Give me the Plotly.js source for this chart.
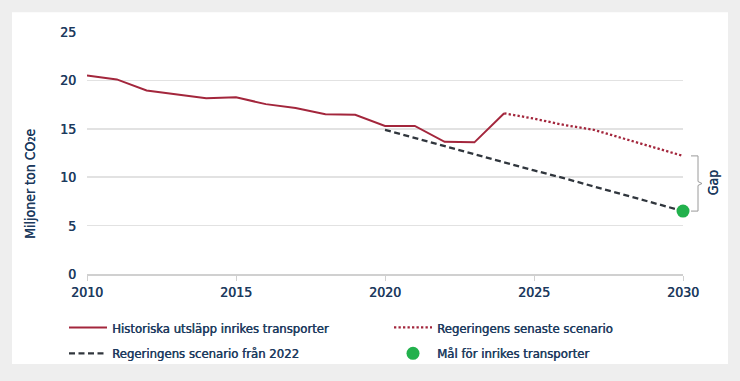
<!DOCTYPE html>
<html>
<head>
<meta charset="utf-8">
<script src="https://cdn.plot.ly/plotly-3.0.1.min.js"></script>
<style>
  html, body { margin: 0; padding: 0; background: #eeeeee; }
  #chart { width: 740px; height: 381px; }
</style>
</head>
<body>
<div id="chart"></div>
<script>
// ---- Data ----
const histYears = [2010, 2011, 2012, 2013, 2014, 2015, 2016, 2017, 2018, 2019, 2020, 2021, 2022, 2023, 2024];
const histValues = [20.5, 20.1, 18.95, 18.55, 18.15, 18.25, 17.55, 17.15, 16.5, 16.45, 15.3, 15.3, 13.65, 13.6, 16.6];

const latestYears = [2024, 2025, 2026, 2027, 2028, 2029, 2030];
const latestValues = [16.6, 16.05, 15.4, 14.9, 14.0, 13.1, 12.2];

const scen2022Years = [2020, 2021, 2022, 2023, 2024, 2025, 2026, 2027, 2028, 2029, 2030];
const scen2022Values = [14.9, 14.05, 13.2, 12.4, 11.55, 10.7, 9.9, 9.05, 8.2, 7.35, 6.5];

const targetYears = [2030];
const targetValues = [6.5];

const xTickVals = [2010, 2015, 2020, 2025, 2030];
const yTickVals = [0, 5, 10, 15, 20, 25];

const names = {
  hist: 'Historiska utsläpp inrikes transporter',
  latest: 'Regeringens senaste scenario',
  s2022: 'Regeringens scenario från 2022',
  target: 'Mål för inrikes transporter'
};
const yTitle = 'Miljoner ton CO₂e';
const gapLabel = 'Gap';

// ---- Layout geometry ----
const W = 740, H = 381;
const M = { l: 87, r: 57, t: 32, b: 104 };
const pw = W - M.l - M.r, ph = H - M.t - M.b;
const yMax = 25;
const px2x = p => (p - M.l) / pw;
const py2y = p => (H - M.b - p) / ph;

const navy = '#1c3a5e';
const maroon = '#a3263c';
const FONT = "'DejaVu Sans Condensed', 'DejaVu Sans', sans-serif";
const f = (size, weight) => ({ family: FONT, color: navy, size: size, weight: weight || 'normal',
  shadow: '0.45px 0 0 ' + navy });

const traces = [
  { x: histYears, y: histValues, name: names.hist, mode: 'lines',
    line: { color: maroon, width: 2 }, legend: 'legend', legendgroup: 'a' },
  { x: scen2022Years, y: scen2022Values, name: names.s2022, mode: 'lines',
    line: { color: '#30363d', width: 2.3, dash: '6px,3.5px' }, legend: 'legend', legendgroup: 'b' },
  { x: latestYears, y: latestValues, name: names.latest, mode: 'lines',
    line: { color: maroon, width: 2.3, dash: '2.3px,2.2px' }, legend: 'legend2', legendgroup: 'c' },
  { x: targetYears, y: targetValues, name: names.target, mode: 'markers',
    marker: { color: '#22b14c', size: 13 }, legend: 'legend2', legendgroup: 'd', cliponaxis: false }
];

// brace between last scenario values
const topV = latestValues[latestValues.length - 1];
const botV = targetValues[targetValues.length - 1];
const midV = (topV + botV) / 2;
const bx0 = 1 + 8 / pw, bx1 = 1 + 15 / pw, bxt = 1 + 19 / pw;
const yt = topV / yMax, yb = botV / yMax, ym = midV / yMax, dy = 2 / ph;
const bracePath = `M${bx0},${yt} L${bx1},${yt} L${bx1},${ym + dy} L${bxt},${ym} L${bx1},${ym - dy} L${bx1},${yb} L${bx0},${yb}`;

const layout = {
  width: W, height: H,
  margin: M,
  paper_bgcolor: '#eeeeee',
  plot_bgcolor: 'rgba(0,0,0,0)',
  font: f(13),
  showlegend: true,
  xaxis: {
    range: [2010, 2030], tickvals: xTickVals, ticks: 'outside', ticklen: 5,
    tickcolor: '#d0d0d0', showline: true, linecolor: '#d0d0d0', linewidth: 1.5,
    showgrid: false, zeroline: false, tickfont: f(14)
  },
  yaxis: {
    range: [0, yMax], tickvals: yTickVals, showgrid: true, gridcolor: '#e2e2e2', gridwidth: 1.5,
    zeroline: false, showline: false, ticks: '', ticklabelstandoff: 10,
    tickfont: f(14)
  },
  legend: {
    x: px2x(64), y: py2y(316), xanchor: 'left', yanchor: 'top',
    bgcolor: 'rgba(0,0,0,0)', font: f(13),
    tracegroupgap: 6, itemwidth: 38
  },
  legend2: {
    x: px2x(389), y: py2y(316), xanchor: 'left', yanchor: 'top',
    bgcolor: 'rgba(0,0,0,0)', font: f(13),
    tracegroupgap: 6, itemwidth: 38
  },
  shapes: [
    { type: 'rect', xref: 'paper', yref: 'paper', layer: 'below',
      x0: px2x(12), x1: px2x(728), y0: py2y(368), y1: py2y(12),
      fillcolor: '#ffffff', line: { width: 0 } },
    { type: 'path', xref: 'paper', yref: 'paper', path: bracePath,
      line: { color: '#9a9a9a', width: 1 } }
  ],
  annotations: [
    { text: yTitle, xref: 'paper', yref: 'paper', x: px2x(30), y: py2y(186),
      xanchor: 'center', yanchor: 'middle',
      textangle: -90, showarrow: false, font: f(14) },
    { text: gapLabel, xref: 'paper', yref: 'paper', x: px2x(713), y: ym,
      xanchor: 'center', yanchor: 'middle',
      textangle: -90, showarrow: false, font: f(14) }
  ]
};

Plotly.newPlot('chart', traces, layout, { displayModeBar: false, staticPlot: true });
</script>
</body>
</html>
